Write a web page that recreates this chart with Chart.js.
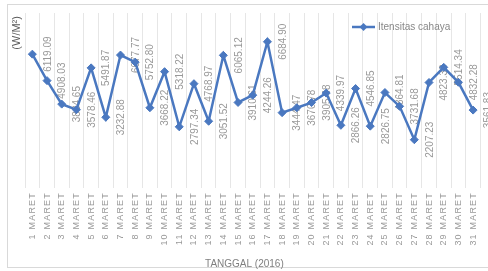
<!DOCTYPE html>
<html>
<head>
<meta charset="utf-8">
<script src="https://cdn.jsdelivr.net/npm/chart.js@4.4.0/dist/chart.umd.min.js"></script>
<style>
  html, body { margin: 0; padding: 0; background: #fff; }
</style>
</head>
<body>
<canvas id="chart" width="488" height="271"></canvas>
<script>
const tanggal = [
  '1 MARET', '2 MARET', '3 MARET', '4 MARET', '5 MARET', '6 MARET', '7 MARET', '8 MARET',
  '9 MARET', '10 MARET', '11 MARET', '12 MARET', '13 MARET', '14 MARET', '15 MARET', '16 MARET',
  '17 MARET', '18 MARET', '19 MARET', '20 MARET', '21 MARET', '22 MARET', '23 MARET', '24 MARET',
  '25 MARET', '26 MARET', '27 MARET', '28 MARET', '29 MARET', '30 MARET', '31 MARET'
];
const intensitas = [
  6119.09, 4908.03, 3834.65, 3578.46, 5491.87, 3232.88, 6077.77, 5752.80,
  3668.22, 5318.22, 2797.34, 4768.97, 3051.52, 6065.12, 3910.61, 4244.26,
  6684.90, 3444.47, 3670.78, 3905.48, 4339.97, 2866.26, 4546.85, 2826.75,
  4364.81, 3731.68, 2207.23, 4823.38, 5514.34, 4832.28, 3561.83
];
const seriesName = 'Itensitas cahaya';
const yTitle = '(W/M²) ';
const xTitle = 'TANGGAL (2016)      ';

const blue = '#4a78c0';
const grey = '#999999';
Chart.defaults.font.family = '"Liberation Sans", Arial, sans-serif';

// white page + thin frame round the whole chart
const frame = {
  id: 'frame',
  beforeDraw(chart) {
    const ctx = chart.ctx;
    ctx.save();
    ctx.fillStyle = '#fff';
    ctx.fillRect(0, 0, chart.width, chart.height);
    ctx.strokeStyle = '#d9d9d9';
    ctx.lineWidth = 1;
    ctx.strokeRect(7.5, 4.5, 490, 263);
    ctx.restore();
  },
  afterLayout(chart) {
    // wide letter spacing on the date ticks only
    const x = chart.scales.x;
    if (x._spaced) return;
    const orig = x.drawLabels.bind(x);
    x.drawLabels = function (area) {
      const c = this.ctx;
      c.save();
      c.letterSpacing = '1.2px';
      orig(area);
      c.restore();
    };
    x._spaced = true;
  }
};

// vertical value labels, drawn under the line
const valueLabels = {
  id: 'valueLabels',
  beforeDatasetsDraw(chart) {
    const ctx = chart.ctx;
    const meta = chart.getDatasetMeta(0);
    ctx.save();
    ctx.font = '10px "Liberation Sans", Arial, sans-serif';
    ctx.fillStyle = grey;
    ctx.textAlign = 'center';
    ctx.textBaseline = 'middle';
    meta.data.forEach((pt, i) => {
      ctx.save();
      ctx.translate(pt.x + 15.5, pt.y);
      ctx.rotate(-Math.PI / 2);
      ctx.fillText(intensitas[i].toFixed(2), 0, 0);
      ctx.restore();
    });
    ctx.restore();
  }
};

// legend sits inside the plot, top right
const legendBox = {
  id: 'legendBox',
  afterDraw(chart) {
    const ctx = chart.ctx;
    const y = 27;
    ctx.save();
    ctx.strokeStyle = blue;
    ctx.lineWidth = 2.5;
    ctx.beginPath();
    ctx.moveTo(352, y);
    ctx.lineTo(375, y);
    ctx.stroke();
    ctx.fillStyle = blue;
    ctx.beginPath();
    ctx.moveTo(363.5, y - 4);
    ctx.lineTo(367.5, y);
    ctx.lineTo(363.5, y + 4);
    ctx.lineTo(359.5, y);
    ctx.closePath();
    ctx.fill();
    ctx.font = '10px "Liberation Sans", Arial, sans-serif';
    ctx.fillStyle = '#888888';
    ctx.textBaseline = 'middle';
    ctx.fillText(chart.data.datasets[0].label, 378, y);
    ctx.restore();
  }
};

new Chart(document.getElementById('chart'), {
  type: 'line',
  data: {
    labels: tanggal,
    datasets: [{
      label: seriesName,
      data: intensitas,
      borderColor: blue,
      backgroundColor: blue,
      borderWidth: 2.5,
      pointStyle: 'rectRot',
      pointRadius: 4,
      pointBorderWidth: 1,
      pointBackgroundColor: blue,
      pointBorderColor: blue,
      tension: 0
    }]
  },
  options: {
    responsive: false,
    animation: false,
    layout: { padding: { left: 0, right: 6, top: 13, bottom: 0 } },
    plugins: {
      legend: { display: false },
      tooltip: { enabled: false }
    },
    scales: {
      x: {
        type: 'category',
        offset: true,
        grid: { offset: true, color: '#e6e6e6', drawTicks: false },
        border: { display: false },
        ticks: {
          autoSkip: false, minRotation: 90, maxRotation: 90, padding: 4,
          color: grey, font: { size: 9 }
        },
        title: {
          display: true, text: xTitle, color: '#7f7f7f',
          font: { size: 10 }, padding: { top: 0, bottom: 1 }
        },
        afterFit(scale) { scale.height = 83; }
      },
      y: {
        min: 0,
        max: 8000,
        grid: { display: false },
        border: { display: false },
        ticks: { display: false },
        title: {
          display: true, text: yTitle, align: 'end', color: '#595959',
          font: { size: 11 }, padding: { top: 10, bottom: 0 }
        },
        afterFit(scale) { scale.width = 25; }
      }
    }
  },
  plugins: [frame, valueLabels, legendBox]
});
</script>
</body>
</html>
